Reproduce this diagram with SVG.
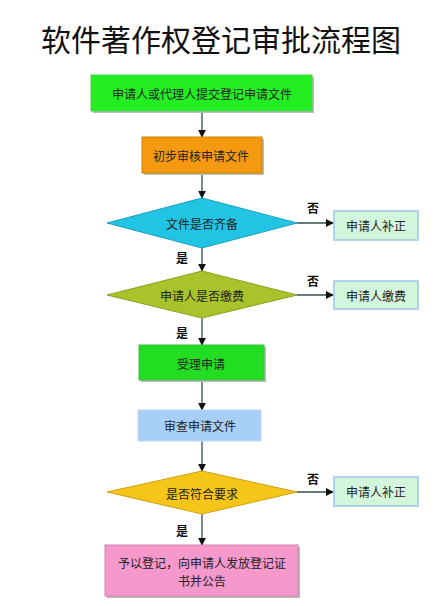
<svg xmlns="http://www.w3.org/2000/svg" width="441" height="606" viewBox="0 0 441 606">
<style>
text{font-family:"Noto Sans CJK SC","Liberation Sans",sans-serif;text-anchor:middle;dominant-baseline:central}
.t{font-size:12px;fill:#222}
.lbl{font-size:12px;font-weight:bold;fill:#111}
.title{font-size:30px;fill:#111}
.sh{fill:#bbbbbb}
.c{stroke:#2f4f4f;stroke-width:1.3;fill:none;marker-end:url(#ah)}
.side{fill:#d3f5dc;stroke:#9cc9e6;stroke-width:1.5}
</style>
<defs>
<marker id="ah" viewBox="0 0 10 10" refX="9" refY="5" markerWidth="8" markerHeight="8" markerUnits="userSpaceOnUse" orient="auto">
<path d="M0,0 L10,5 L0,10 z" fill="#111"/>
</marker>
</defs>
<rect width="441" height="606" fill="#fff"/>
<text class="title" x="221" y="38">软件著作权登记审批流程图</text>

<g id="connectors">
<line class="c" x1="202" y1="111" x2="202" y2="137"/>
<line class="c" x1="202" y1="173" x2="202" y2="198"/>
<line class="c" x1="297" y1="223" x2="333" y2="223"/>
<line class="c" x1="202" y1="248" x2="202" y2="271"/>
<line class="c" x1="297" y1="295" x2="333" y2="295"/>
<line class="c" x1="202" y1="318" x2="202" y2="345"/>
<line class="c" x1="202" y1="380" x2="202" y2="410"/>
<line class="c" x1="202" y1="441" x2="202" y2="471"/>
<line class="c" x1="297" y1="492" x2="333" y2="492"/>
<line class="c" x1="202" y1="514" x2="202" y2="545"/>
<text class="lbl" x="313" y="207">否</text>
<text class="lbl" x="182" y="257">是</text>
<text class="lbl" x="313" y="280">否</text>
<text class="lbl" x="182" y="332">是</text>
<text class="lbl" x="313" y="478">否</text>
<text class="lbl" x="182" y="530">是</text>
</g>

<g id="n1">
<rect class="sh" x="93" y="77" width="221" height="36"/>
<rect x="91" y="75" width="221" height="36" fill="#22ee22" stroke="#55cc55"/>
<text class="t" x="202" y="93">申请人或代理人提交登记申请文件</text>
</g>
<g id="n2">
<rect class="sh" x="144" y="139" width="120" height="36"/>
<rect x="142" y="137" width="120" height="36" fill="#f59a10" stroke="#d08000"/>
<text class="t" x="201" y="155">初步审核申请文件</text>
</g>
<g id="d1">
<polygon points="202,198 297,223 202,248 107,223" fill="#22c4e4" stroke="#1aa0c0"/>
<text class="t" x="202" y="223">文件是否齐备</text>
</g>
<g id="s1">
<rect class="side" x="334" y="211" width="84" height="29"/>
<text class="t" x="376" y="225">申请人补正</text>
</g>
<g id="d2">
<polygon points="202,271 297,295 202,318 107,295" fill="#a8c42a" stroke="#8aa020"/>
<text class="t" x="202" y="295">申请人是否缴费</text>
</g>
<g id="s2">
<rect class="side" x="334" y="281" width="84" height="28"/>
<text class="t" x="376" y="295">申请人缴费</text>
</g>
<g id="n3">
<rect class="sh" x="141" y="347" width="125" height="35"/>
<rect x="139" y="345" width="125" height="35" fill="#22dd22" stroke="#44bb44"/>
<text class="t" x="201" y="363">受理申请</text>
</g>
<g id="n4">
<rect x="138" y="410" width="123" height="31" fill="#a8cff8" stroke="#c0d8f0"/>
<text class="t" x="200" y="425">审查申请文件</text>
</g>
<g id="d3">
<polygon points="202,471 297,492 202,514 107,492" fill="#f5c518" stroke="#d0a010"/>
<text class="t" x="202" y="493">是否符合要求</text>
</g>
<g id="s3">
<rect class="side" x="334" y="477" width="84" height="29"/>
<text class="t" x="376" y="491">申请人补正</text>
</g>
<g id="n5">
<rect class="sh" x="107" y="547" width="193" height="51"/>
<rect x="105" y="545" width="193" height="51" fill="#f598cc" stroke="#d080b0"/>
<text class="t" x="202" y="562">予以登记，向申请人发放登记证</text>
<text class="t" x="202" y="580">书并公告</text>
</g>
</svg>
